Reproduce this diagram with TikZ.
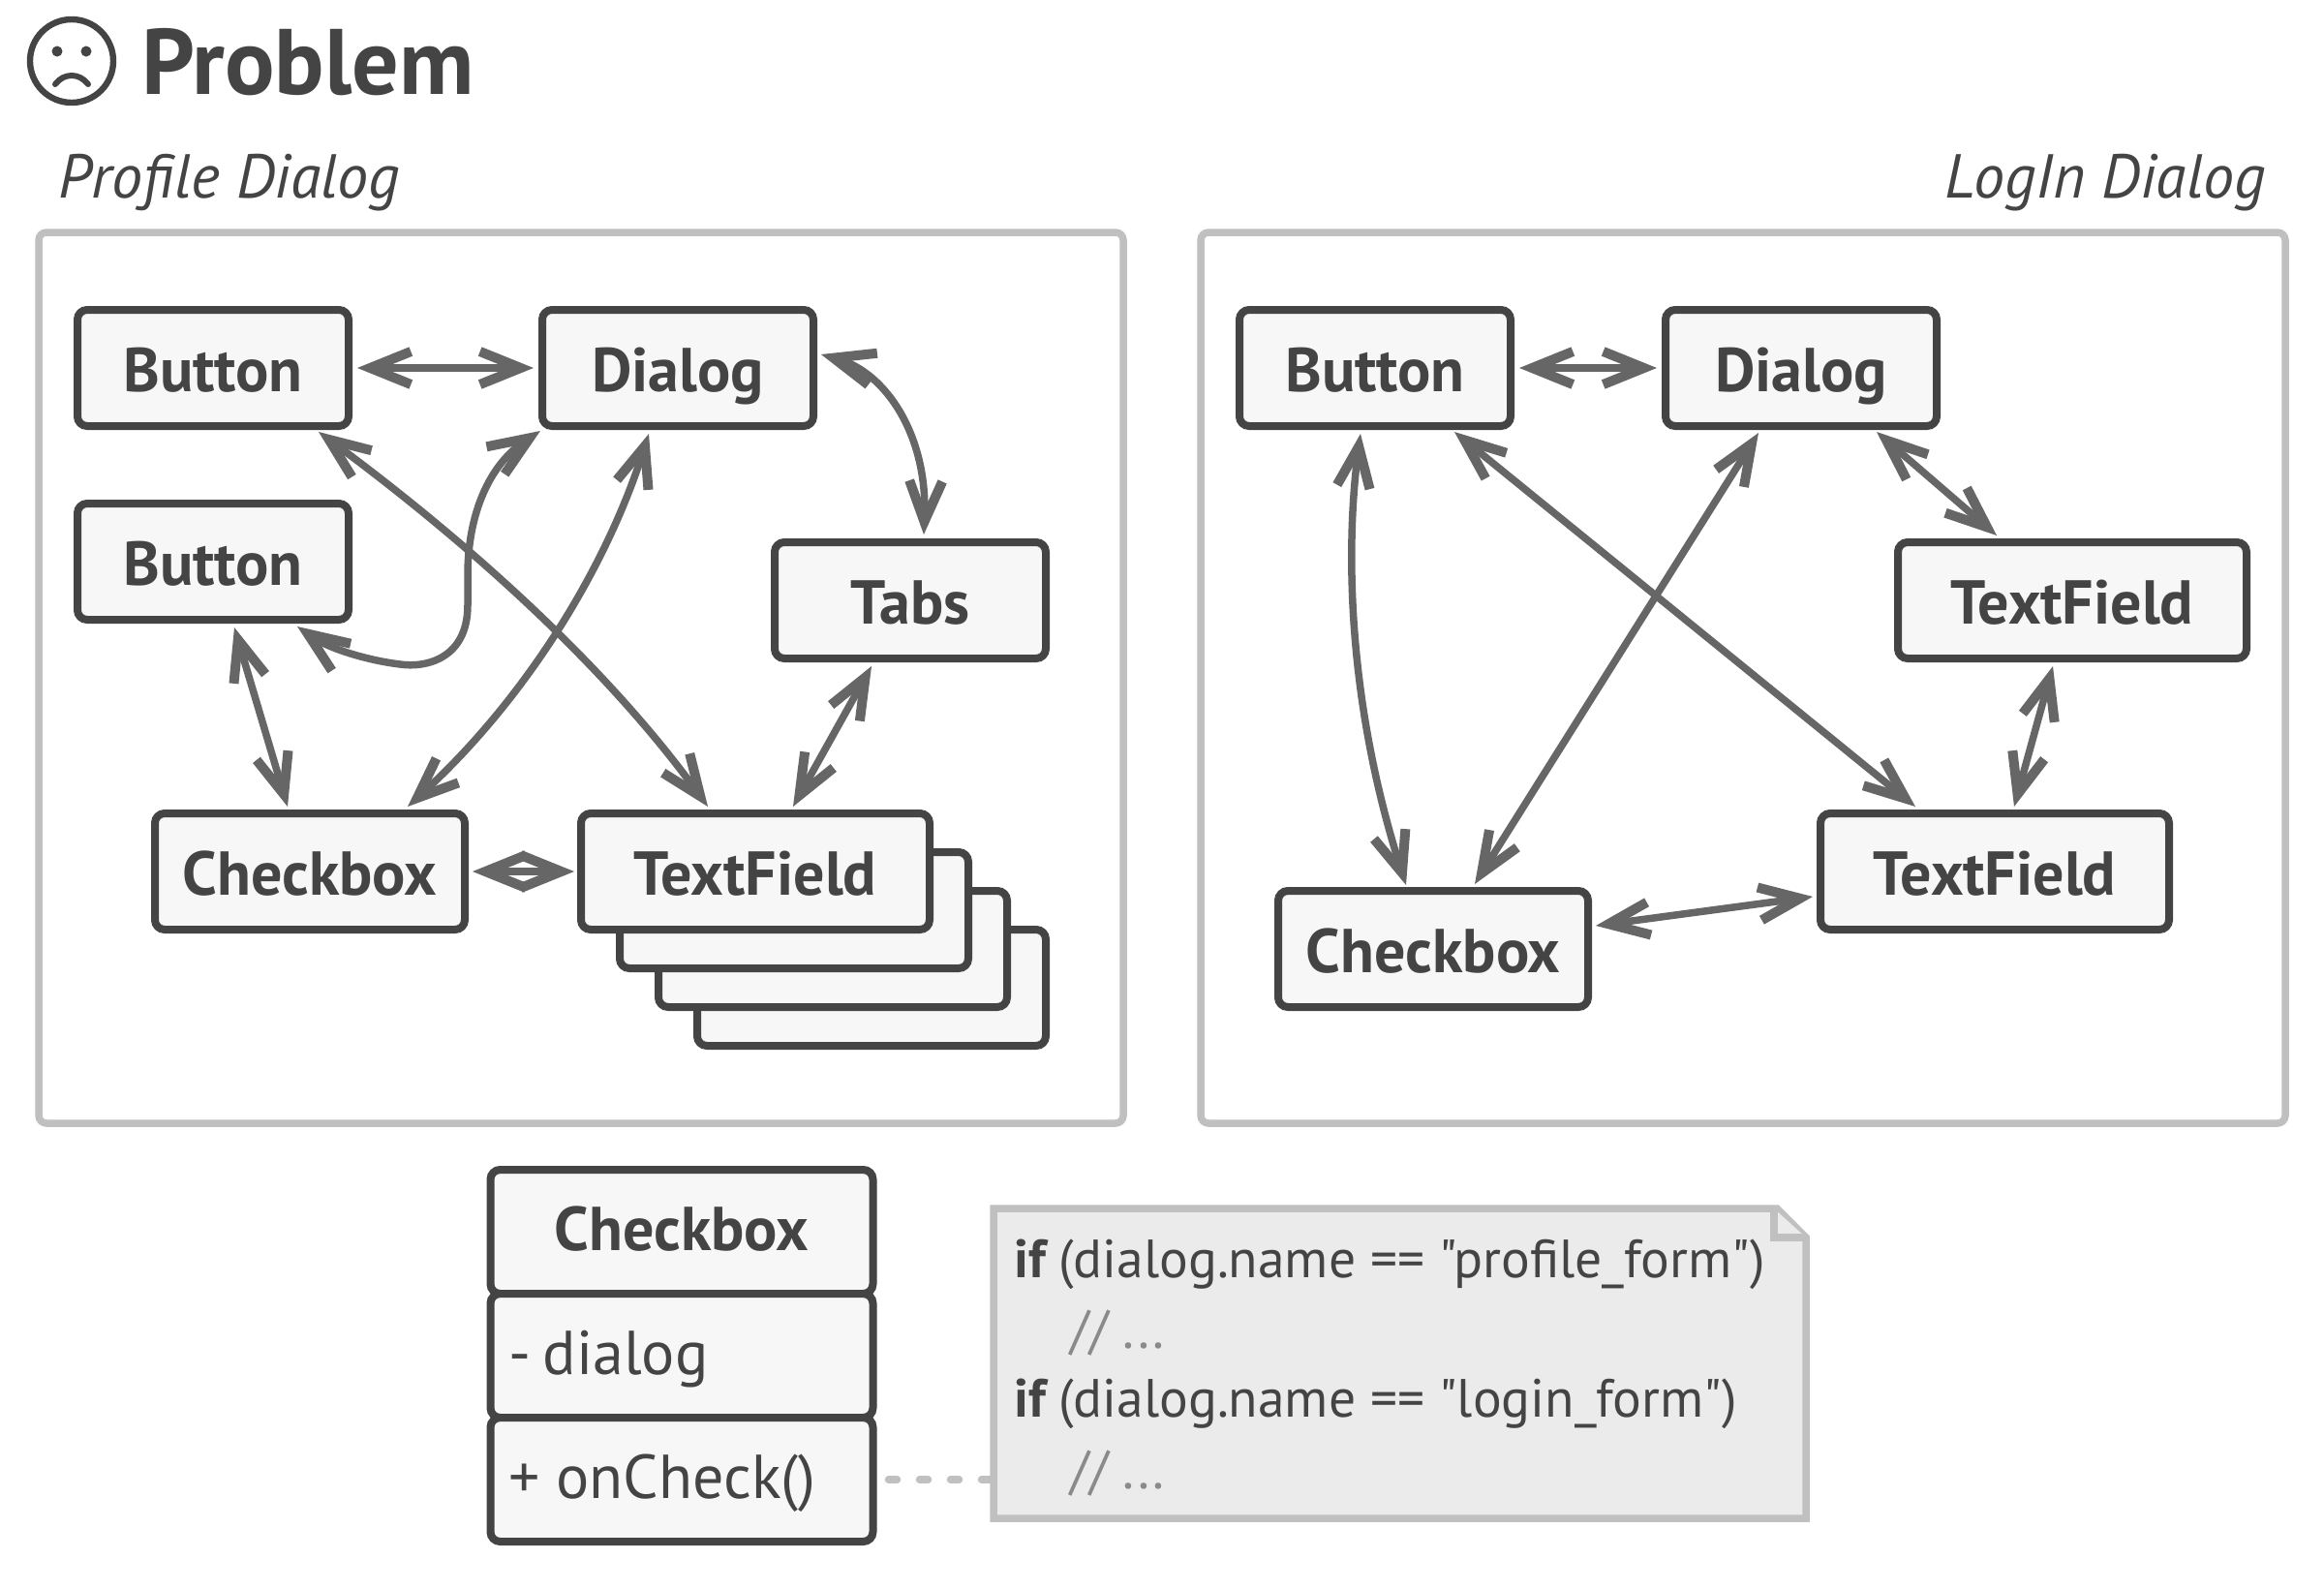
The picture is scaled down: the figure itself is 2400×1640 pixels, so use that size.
\documentclass[tikz,border=0pt]{standalone}
\usepackage{fontspec}
\setmainfont{PT Sans}[Ligatures=TeXOff]
\usetikzlibrary{calc,arrows.meta}
\definecolor{ink}{HTML}{444444}
\definecolor{arrowgray}{HTML}{666666}
\definecolor{framegray}{HTML}{C0C0C0}
\definecolor{boxfill}{HTML}{F7F7F7}
\definecolor{notefill}{HTML}{EBEBEB}
\definecolor{commentgray}{HTML}{8A8A8A}
\tikzset{
  frame/.style={draw=framegray,line width=3.75pt,rounded corners=4pt,minimum width=560pt,minimum height=460pt,inner sep=0pt,outer sep=0pt},
  boxbase/.style={draw=ink,fill=boxfill,line width=4pt,rounded corners=5pt,inner sep=0pt,outer sep=0pt,text=ink,font=\fontsize{32pt}{36pt}\selectfont\bfseries,text height=24pt,text depth=0pt,minimum height=60pt},
  wA/.style={boxbase,minimum width=140pt},
  wB/.style={boxbase,minimum width=160pt},
  wC/.style={boxbase,minimum width=180pt},
  cellbold/.style={boxbase,minimum width=197.5pt,minimum height=64pt,text height=19.5pt},
  cellplain/.style={boxbase,minimum width=197.5pt,minimum height=64pt,font=\fontsize{32pt}{36pt}\selectfont,text height=19pt,text width=178.5pt,inner xsep=9.5pt,align=left},
  rel/.style={draw=arrowgray,line width=3.75pt,<->,>={Straight Barb[length=21pt,width=17pt,line width=5pt]}},
  titletext/.style={text=ink,inner sep=0pt,font=\fontsize{48pt}{52pt}\selectfont\bfseries},
  captiontext/.style={text=ink,inner sep=0pt,font=\fontsize{32pt}{36pt}\selectfont\itshape},
  notetext/.style={text=ink,inner sep=0pt,anchor=base west,font=\fontsize{27.8pt}{32pt}\selectfont},
  commenttext/.style={text=commentgray,inner sep=0pt,anchor=base west,font=\fontsize{27.8pt}{32pt}\selectfont},
  noteline/.style={draw=framegray,line width=3.75pt,line join=miter}
}
\begin{document}
\begin{tikzpicture}[x=0.5pt,y=-0.5pt]
\useasboundingbox (0,0) rectangle (2400,1640);
\fill[white] (0,0) rectangle (2400,1640);

% title face
\draw[ink,line width=3.2pt] (74,63) circle[radius=43];
\fill[ink] (59,53) circle[radius=5.5] (89,53) circle[radius=5.5];
\draw[ink,line width=3pt,line cap=round] (57,87) .. controls (66,75) and (82,75) .. (91,87);
\node[titletext,anchor=base west] (title) at (146,97) {Problem};

% captions
\node[captiontext,anchor=base west] (capL) at (60,204) {Profile Dialog};
\node[captiontext,anchor=base east] (capR) at (2340,204) {LogIn Dialog};

% frames
\node[frame] (frameL) at (600,700) {};
\node[frame] (frameR) at (1800,700) {};

% left group
\node[wA] (b1) at (220,380) {Button};
\node[wA] (d1) at (700,380) {Dialog};
\node[wA] (b2) at (220,580) {Button};
\node[wA] (tabs) at (940,620) {Tabs};
\node[wB] (cb1) at (320,900) {Checkbox};
\node[wC] (tf1d) at (900,1020) {};
\node[wC] (tf1c) at (860,980) {};
\node[wC] (tf1b) at (820,940) {};
\node[wC] (tf1) at (780,900) {TextField};

% right group
\node[wA] (b3) at (1420,380) {Button};
\node[wA] (d2) at (1860,380) {Dialog};
\node[wC] (tf3) at (2140,620) {TextField};
\node[wC] (tf4) at (2060,900) {TextField};
\node[wB] (cb2) at (1480,980) {Checkbox};

% left connectors
\draw[rel] ($(b1.east)+(9,0)$) -- ($(d1.west)+(-9,0)$);
\draw[rel] ($(d1.east)+(8,-14)$) .. controls (915,385) and (958,450) .. ($(tabs.north)+(14,-8)$);
\draw[rel] ($(b1.south)+(109,6)$) .. controls (470,550) and (620,680) .. ($(tf1.north)+(-49,-7)$);
\draw[rel] ($(d1.south west)+(-2,5)$) .. controls (505,480) and (484,530) .. (483,590) -- (483,625) .. controls (483,680) and (440,690) .. (413,686) .. controls (380,682) and (340,670) .. ($(b2.south)+(87,7)$);
\draw[rel] ($(d1.south)+(-30,8)$) .. controls (625,590) and (540,725) .. ($(cb1.north)+(101,-7)$);
\draw[rel] ($(b2.south)+(22,8)$) -- ($(cb1.north)+(-23,-7)$);
\draw[rel] ($(tabs.south)+(-40,8)$) -- ($(tf1.north)+(39,-7)$);
\draw[rel] ($(cb1.east)+(8,0)$) -- ($(tf1.west)+(-7,0)$);

% right connectors
\draw[rel] ($(b3.east)+(9,0)$) -- ($(d2.west)+(-9,0)$);
\draw[rel] ($(b3.south)+(-15,8)$) .. controls (1390,560) and (1390,720) .. ($(cb2.north)+(-28,-6)$);
\draw[rel] ($(b3.south)+(82,6)$) -- ($(tf4.north)+(-82,-7)$);
\draw[rel] ($(d2.south)+(-44,7)$) -- ($(cb2.north)+(43,-7)$);
\draw[rel] ($(d2.south)+(78,6)$) -- ($(tf3.north)+(-78,-7)$);
\draw[rel] ($(tf3.south)+(-20,8)$) -- ($(tf4.north)+(20,-7)$);
\draw[rel] ($(cb2.east)+(8,-24)$) -- ($(tf4.west)+(-8,26)$);

% class box
\node[cellbold] (clsname) at (704,1272) {Checkbox};
\node[cellplain] (clsfield) at (704,1400) {-\hspace{-4.5pt} dialog};
\node[cellplain] (clsmethod) at (704,1528) {+\hspace{-2.25pt} onCheck()};

% note
\node[minimum width=419.5pt,minimum height=160pt,inner sep=0pt,outer sep=0pt] (note) at (1445.5,1408) {};
\draw[draw=framegray,line width=3.75pt,dash pattern=on 4.5pt off 11.5pt,line cap=round] ($(clsmethod.east)+(16,0)$) -- (clsmethod.east -| note.west);
\draw[noteline,fill=notefill] (note.north west) -- ($(note.north east)+(-30,0)$) -- ($(note.north east)+(0,30)$) -- (note.south east) -- (note.south west) -- cycle;
\draw[noteline,fill=notefill] ($(note.north east)+(-33,0)$) -- ($(note.north east)+(-33,30)$) -- ($(note.north east)+(0,30)$);
\node[notetext] (n1) at (1047,1319) {\textbf{if}\hspace{-2.25pt} (dialog.name == "profile\_form")};
\node[commenttext] (n2) at (1105,1392) {// ...};
\node[notetext] (n3) at (1047,1463) {\textbf{if}\hspace{-2.25pt} (dialog.name == "login\_form")};
\node[commenttext] (n4) at (1105,1537) {// ...};
\end{tikzpicture}
\end{document}
